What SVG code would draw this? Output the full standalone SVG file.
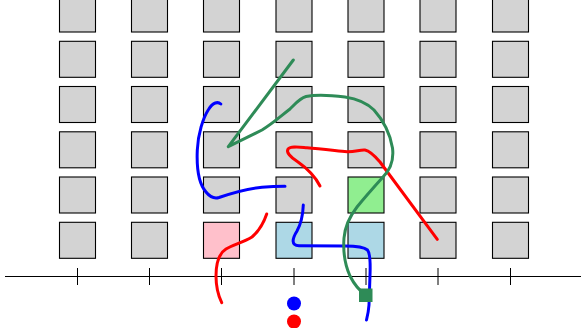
<svg xmlns="http://www.w3.org/2000/svg" width="582" height="328" viewBox="0 0 582 328">
  <style>
    .cell { fill: #d3d3d3; stroke: #000; stroke-width: 1.1; }
    .pink { fill: #ffc0cb; }
    .blue { fill: #add8e6; }
    .green { fill: #90ee90; }
    .axis { stroke: #000; stroke-width: 1.2; fill: none; }
    .tick { stroke: #000; stroke-width: 1; }
    .path { fill: none; stroke-width: 3; stroke-linecap: round; stroke-linejoin: round; }
    .p-blue { stroke: #0000ff; }
    .p-red { stroke: #ff0000; }
    .p-green { stroke: #2e8b57; }
  </style>
  <defs>
    <rect id="cellShape" width="36" height="36"/>
  </defs>
  <rect width="582" height="328" fill="#fff"/>

  <!-- grid of cells: 7 columns x 6 rows -->
  <g id="cells">
    <g id="col1">
      <use href="#cellShape" class="cell" x="59.5" y="-4"/>
      <use href="#cellShape" class="cell" x="59.5" y="41.3"/>
      <use href="#cellShape" class="cell" x="59.5" y="86.5"/>
      <use href="#cellShape" class="cell" x="59.5" y="131.8"/>
      <use href="#cellShape" class="cell" x="59.5" y="177"/>
      <use href="#cellShape" class="cell" x="59.5" y="222.3"/>
    </g>
    <g id="col2">
      <use href="#cellShape" class="cell" x="131.5" y="-4"/>
      <use href="#cellShape" class="cell" x="131.5" y="41.3"/>
      <use href="#cellShape" class="cell" x="131.5" y="86.5"/>
      <use href="#cellShape" class="cell" x="131.5" y="131.8"/>
      <use href="#cellShape" class="cell" x="131.5" y="177"/>
      <use href="#cellShape" class="cell" x="131.5" y="222.3"/>
    </g>
    <g id="col3">
      <use href="#cellShape" class="cell" x="203.5" y="-4"/>
      <use href="#cellShape" class="cell" x="203.5" y="41.3"/>
      <use href="#cellShape" class="cell" x="203.5" y="86.5"/>
      <use href="#cellShape" class="cell" x="203.5" y="131.8"/>
      <use href="#cellShape" class="cell" x="203.5" y="177"/>
      <use href="#cellShape" class="cell pink" x="203.5" y="222.3"/>
    </g>
    <g id="col4">
      <use href="#cellShape" class="cell" x="276" y="-4"/>
      <use href="#cellShape" class="cell" x="276" y="41.3"/>
      <use href="#cellShape" class="cell" x="276" y="86.5"/>
      <use href="#cellShape" class="cell" x="276" y="131.8"/>
      <use href="#cellShape" class="cell" x="276" y="177"/>
      <use href="#cellShape" class="cell blue" x="276" y="222.3"/>
    </g>
    <g id="col5">
      <use href="#cellShape" class="cell" x="348" y="-4"/>
      <use href="#cellShape" class="cell" x="348" y="41.3"/>
      <use href="#cellShape" class="cell" x="348" y="86.5"/>
      <use href="#cellShape" class="cell" x="348" y="131.8"/>
      <use href="#cellShape" class="cell green" x="348" y="177"/>
      <use href="#cellShape" class="cell blue" x="348" y="222.3"/>
    </g>
    <g id="col6">
      <use href="#cellShape" class="cell" x="420" y="-4"/>
      <use href="#cellShape" class="cell" x="420" y="41.3"/>
      <use href="#cellShape" class="cell" x="420" y="86.5"/>
      <use href="#cellShape" class="cell" x="420" y="131.8"/>
      <use href="#cellShape" class="cell" x="420" y="177"/>
      <use href="#cellShape" class="cell" x="420" y="222.3"/>
    </g>
    <g id="col7">
      <use href="#cellShape" class="cell" x="492.5" y="-4"/>
      <use href="#cellShape" class="cell" x="492.5" y="41.3"/>
      <use href="#cellShape" class="cell" x="492.5" y="86.5"/>
      <use href="#cellShape" class="cell" x="492.5" y="131.8"/>
      <use href="#cellShape" class="cell" x="492.5" y="177"/>
      <use href="#cellShape" class="cell" x="492.5" y="222.3"/>
    </g>
  </g>

  <!-- horizontal axis with ticks -->
  <g id="axis">
    <line class="axis" x1="5" y1="276.5" x2="581" y2="276.5"/>
    <line class="tick" x1="77.5" y1="268" x2="77.5" y2="285"/>
    <line class="tick" x1="149.5" y1="268" x2="149.5" y2="285"/>
    <line class="tick" x1="221.5" y1="268" x2="221.5" y2="285"/>
    <line class="tick" x1="294" y1="268" x2="294" y2="285"/>
    <line class="tick" x1="366" y1="268" x2="366" y2="285"/>
    <line class="tick" x1="438" y1="268" x2="438" y2="285"/>
    <line class="tick" x1="510.5" y1="268" x2="510.5" y2="285"/>
  </g>

  <!-- routed paths -->
  <g id="connectors">
    <path class="path p-blue" d="M220.8,104 C218,101.5 213,102 208.5,109.5 C203,118 198,134 197.3,150 C196.5,168 199,184 206,192 C210,197 214,199 219,197.5 C232,193 248,188.5 262,187.2 C272,186.4 280,186.3 285,186.3"/>
    <path class="path p-blue" d="M303.3,205 C303,213 302,222 297,231 C292,239 291,245.5 299,245.7 L345,246 C358,246 364,247 367.5,250 C370,253 370.5,262 370,275 L369,305 C368.5,312 367.5,316 366.5,320"/>
    <path class="path p-red" d="M320,186 C316,178 308,169 298,162 C290,157 286,152 288,149 C291,146 298,147 307,147.7 C320,148.7 335,150.5 347,151.7 C355,152 360,149.5 365,150 C370,151 374,155 380,162 L437.3,239.3"/>
    <path class="path p-red" d="M266.7,214 C264,222 259,231 252,237 C244,242 233,245 226,249 C218,254 216,264 216,276 C216,288 218,295 221.7,302.7"/>
    <path class="path p-green" d="M293.3,60 L228.3,146.7 C236,143 250,136 262,130 C272,124 281,116 290,109 C296,103 300,98 306,96.5 C315,94.5 330,95 345,97 C358,99 367,103 374,110 C383,120 390,133 392.5,148 C394,160 390,170 383,177 C374,187 365,197 357,207 C350,216 345,226 344,238 C343,252 345,265 350,276 C354,284 360,291 365.8,295.2"/>
  </g>

  <!-- end markers -->
  <g id="marker-square">
    <rect x="359" y="288.5" width="13.5" height="13.5" fill="#2e8b57"/>
  </g>
  <g id="dot-blue">
    <circle cx="294" cy="303.5" r="7" fill="#0000ff"/>
  </g>
  <g id="dot-red">
    <circle cx="294" cy="321.5" r="7" fill="#ff0000"/>
  </g>
</svg>
